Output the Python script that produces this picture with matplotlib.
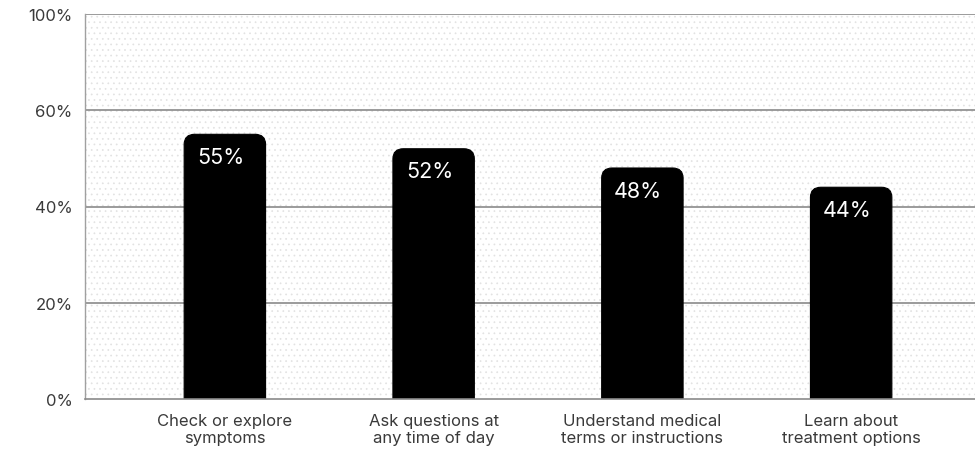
import matplotlib.pyplot as plt
from matplotlib.patches import FancyBboxPatch, Rectangle

plt.rcParams['font.family'] = ['Inter', 'DejaVu Sans']
plt.rcParams['hatch.linewidth'] = 0.5

categories = ["Check or explore\nsymptoms", "Ask questions at\nany time of day",
              "Understand medical\nterms or instructions", "Learn about\ntreatment options"]
values = [55, 52, 48, 44]
ytick_pos = [0, 20, 40, 60, 80]
ytick_labels = ["0%", "20%", "40%", "60%", "100%"]

fig = plt.figure(figsize=(9.75, 4.52), dpi=100)
ax = fig.add_axes([85 / 975, 1 - 400 / 452, 1 - 85 / 975 + 0.01, (400 - 15) / 452])

x = list(range(len(values)))
ax.set_xlim(-0.67, 3.64)
ax.set_ylim(0, 80)

# dotted background
bg = Rectangle((0, 0), 1, 1, transform=ax.transAxes, facecolor='white',
               edgecolor='#e2e2e2', hatch='...', linewidth=0, zorder=0)
ax.add_patch(bg)
ax.set_facecolor('white')

for y in ytick_pos[1:]:
    ax.axhline(y, color='#8a8a8a', linewidth=1.2, zorder=1)

width = 0.39
rx = 0.05
for xi, v in zip(x, values):
    p = FancyBboxPatch((xi - width / 2, -3), width, v + 3,
                       boxstyle=f"round,pad=0,rounding_size={rx}",
                       mutation_aspect=42, facecolor='black', edgecolor='black',
                       linewidth=0.8, zorder=3)
    ax.add_patch(p)
    ax.text(xi - 0.02, v - 2.6, f"{v}%", color='white', fontsize=15.5,
            ha='center', va='top', zorder=4)

ax.set_xticks(x, labels=categories)
ax.set_yticks(ytick_pos, labels=ytick_labels)
ax.tick_params(length=0, colors='#3a3a3a', labelsize=12)
ax.tick_params(axis='x', pad=10)
ax.tick_params(axis='y', pad=9)
for lbl in ax.get_xticklabels():
    lbl.set_linespacing(1.15)

for s in ['top', 'right']:
    ax.spines[s].set_visible(False)
ax.spines['left'].set_color('#a0a0a0')
ax.spines['left'].set_linewidth(1)
ax.spines['bottom'].set_color('#8a8a8a')
ax.spines['bottom'].set_linewidth(1.2)
ax.spines['bottom'].set_zorder(5)

fig.savefig('out.png', dpi=100)
